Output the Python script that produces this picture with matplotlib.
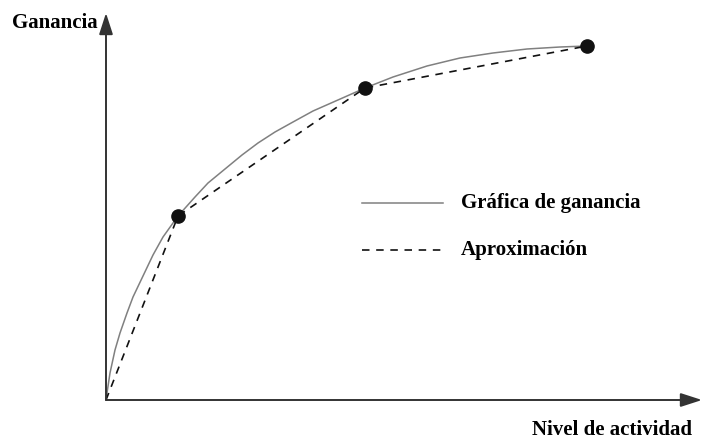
import matplotlib
matplotlib.use("Agg")
import matplotlib.pyplot as plt

# Data (arbitrary units)
curve_x = [0, 1.3, 4, 9, 14, 21, 27, 37, 47, 57, 72, 89, 102, 119, 136, 152, 169, 187, 207, 241, 259, 287, 321, 354, 387, 421, 454, 481]
curve_y = [0, 9, 27, 50, 67, 87, 103, 124, 145, 163, 184, 203, 217, 231, 245, 257, 268, 278, 289, 304, 312, 323, 334, 342, 347, 351, 353, 354]
approx_x = [0, 72, 259, 481]
approx_y = [0, 184, 312, 354]
dots_x = [72, 259, 481]
dots_y = [184, 312, 354]

x_label = "Nivel de actividad"
y_label = "Ganancia"
legend_labels = ["Gráfica de ganancia", "Aproximación"]

plt.rcParams['font.family'] = ['Liberation Serif', 'DejaVu Serif']

fig = plt.figure(figsize=(7.03, 4.41), dpi=100)
ax = fig.add_axes([0, 0, 1, 1])
ax.set_xlim(-106, 597)
ax.set_ylim(-41, 400)
ax.axis('off')

axis_color = '#333333'
arrow = dict(arrowstyle='-|>,head_length=1.3,head_width=0.42', color=axis_color,
             lw=1.4, shrinkA=0, shrinkB=0)
ax.annotate('', xy=(596, 0), xytext=(0, 0), arrowprops=arrow)
ax.annotate('', xy=(0, 387), xytext=(0, 0), arrowprops=arrow)

ax.plot(curve_x, curve_y, color='#808080', lw=1.1, solid_capstyle='round', solid_joinstyle='round')
ax.plot(approx_x, approx_y, color='#111111', lw=1.2, dashes=(4.5, 4))
ax.plot(dots_x, dots_y, 'o', color='#111111', markersize=9.5, zorder=5)

# legend
ax.plot([256, 337], [197, 197], color='#808080', lw=1.1)
ax.plot([256, 337], [150, 150], color='#111111', lw=1.2, dashes=(4.5, 4))
ax.text(355, 197, legend_labels[0], fontsize=15, fontweight='bold', va='center', ha='left')
ax.text(355, 150, legend_labels[1], fontsize=15, fontweight='bold', va='center', ha='left')

ax.text(-8, 377, y_label, fontsize=15, fontweight='bold', va='center', ha='right')
ax.text(586, -30, x_label, fontsize=15, fontweight='bold', va='center', ha='right')

fig.savefig('out.png', dpi=100)
